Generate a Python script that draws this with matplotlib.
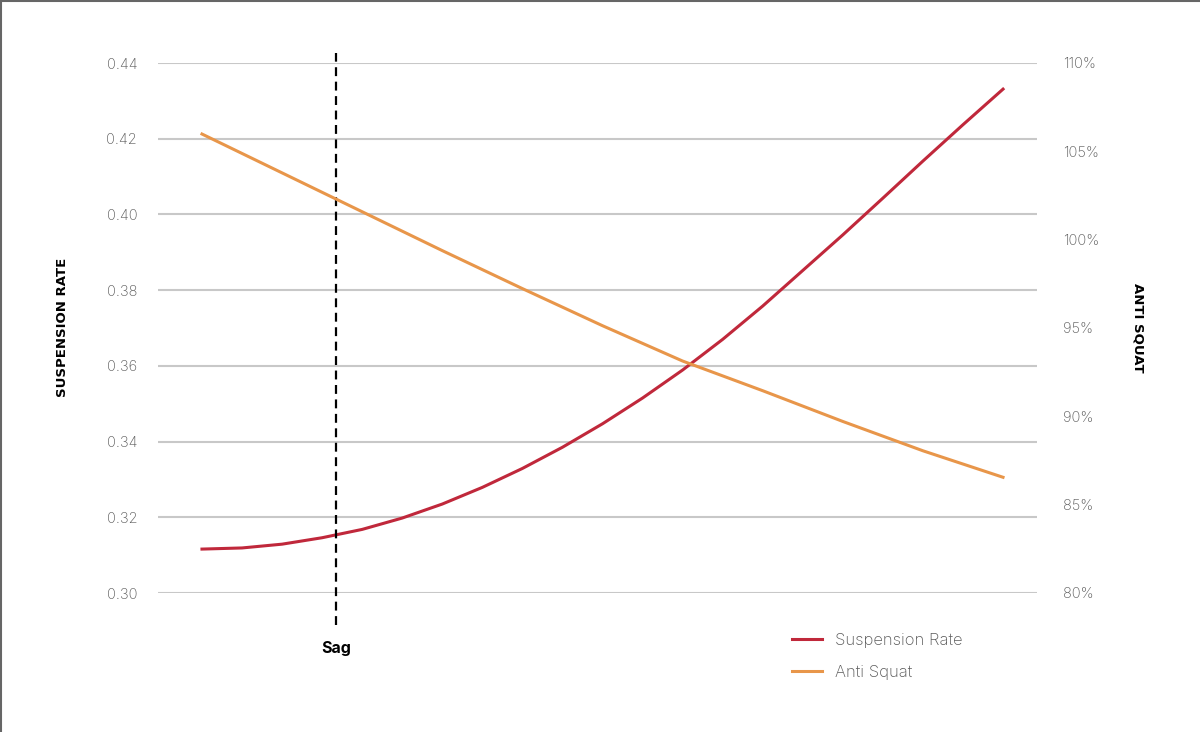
import matplotlib
matplotlib.use("Agg")
import matplotlib.pyplot as plt
from matplotlib.lines import Line2D

plt.rcParams['font.family'] = ['Inter', 'DejaVu Sans']

# travel (% of stroke)
travel_rate = [0, 5, 10, 15, 20, 25, 30, 35, 40, 45, 50, 55, 60, 65, 70, 75, 80, 85, 90, 95, 100]
suspension_rate = [0.3116, 0.3119, 0.3129, 0.3146, 0.3168, 0.3198, 0.3235, 0.3279, 0.3329, 0.3385,
                   0.3447, 0.3515, 0.3589, 0.3670, 0.3758, 0.3852, 0.3946, 0.4043, 0.4141, 0.4237, 0.4331]

travel_as = [0, 10, 20, 30, 40, 50, 60, 70, 80, 90, 100]
anti_squat = [105.98, 103.78, 101.58, 99.38, 97.23, 95.13, 93.13, 91.45, 89.71, 88.05, 86.55]

sag = 16.7

left_ticks = [0.30, 0.32, 0.34, 0.36, 0.38, 0.40, 0.42, 0.44]
right_ticks = [80, 85, 90, 95, 100, 105, 110]

red = '#c0283b'
orange = '#e8964a'
grey_txt = '#5a5a5a'

fig = plt.figure(figsize=(12, 7.32), dpi=100)
ax = fig.add_axes([158 / 1200, (732 - 593) / 732, (1037 - 158) / 1200, 530 / 732])
ax2 = ax.twinx()

l1, = ax.plot(travel_rate, suspension_rate, color=red, lw=2.2, label='Suspension Rate',
              zorder=3, solid_joinstyle='round')
l2, = ax2.plot(travel_as, anti_squat, color=orange, lw=2.2, label='Anti Squat',
               zorder=3, solid_joinstyle='round')

ax.axvline(sag, ymin=-0.06, ymax=1.019, color='black', lw=1.6, ls=(0, (4, 2.5)), clip_on=False, zorder=4)
ax.text(sag, -0.104, 'Sag', transform=ax.get_xaxis_transform(), ha='center', va='center',
        fontsize=11.5, fontweight='bold', color='black')

ax.set_xlim(-5.49, 104.24)
ax.set_ylim(0.30, 0.44)
ax2.set_ylim(80, 110)
ax.set_yticks(left_ticks)
ax.set_yticklabels([f'{v:.2f}' for v in left_ticks])
ax2.set_yticks(right_ticks)
ax2.set_yticklabels([f'{v}%' for v in right_ticks])
ax.set_xticks([])

ax.grid(axis='y', color='#c8c8c8', lw=1.5)
ax.set_axisbelow(True)
for a in (ax, ax2):
    for s in a.spines.values():
        s.set_visible(False)
    a.tick_params(axis='y', length=0, labelsize=10.5, labelcolor=grey_txt)
ax.tick_params(axis='y', pad=15)
ax2.tick_params(axis='y', pad=18.5)
for t in ax.get_yticklabels() + ax2.get_yticklabels():
    t.set_fontweight('light')

fig.text(63 / 1200, 1 - 327 / 732, 'SUSPENSION RATE', rotation=90, ha='center', va='center',
         fontsize=9.5, fontweight='bold', color='black', family='DejaVu Sans')
fig.text(1138 / 1200, 1 - 328 / 732, 'ANTI SQUAT', rotation=270, ha='center', va='center',
         fontsize=9.5, fontweight='bold', color='black', family='DejaVu Sans')

leg = fig.legend(handles=[l1, l2], loc='upper left', bbox_to_anchor=(777 / 1200, 1 - 618 / 732),
                 frameon=False, fontsize=12, handlelength=1.8, handletextpad=0.8, labelspacing=1.0)
for t in leg.get_texts():
    t.set_color(grey_txt)
    t.set_fontweight('light')

# frame of the screenshot (top and left edges)
fig.add_artist(Line2D([0, 1], [0.999, 0.999], transform=fig.transFigure, color='#666666', lw=1.5))
fig.add_artist(Line2D([0.0008, 0.0008], [0, 1], transform=fig.transFigure, color='#666666', lw=1.5))

fig.savefig('out.png', dpi=100, facecolor='white')
